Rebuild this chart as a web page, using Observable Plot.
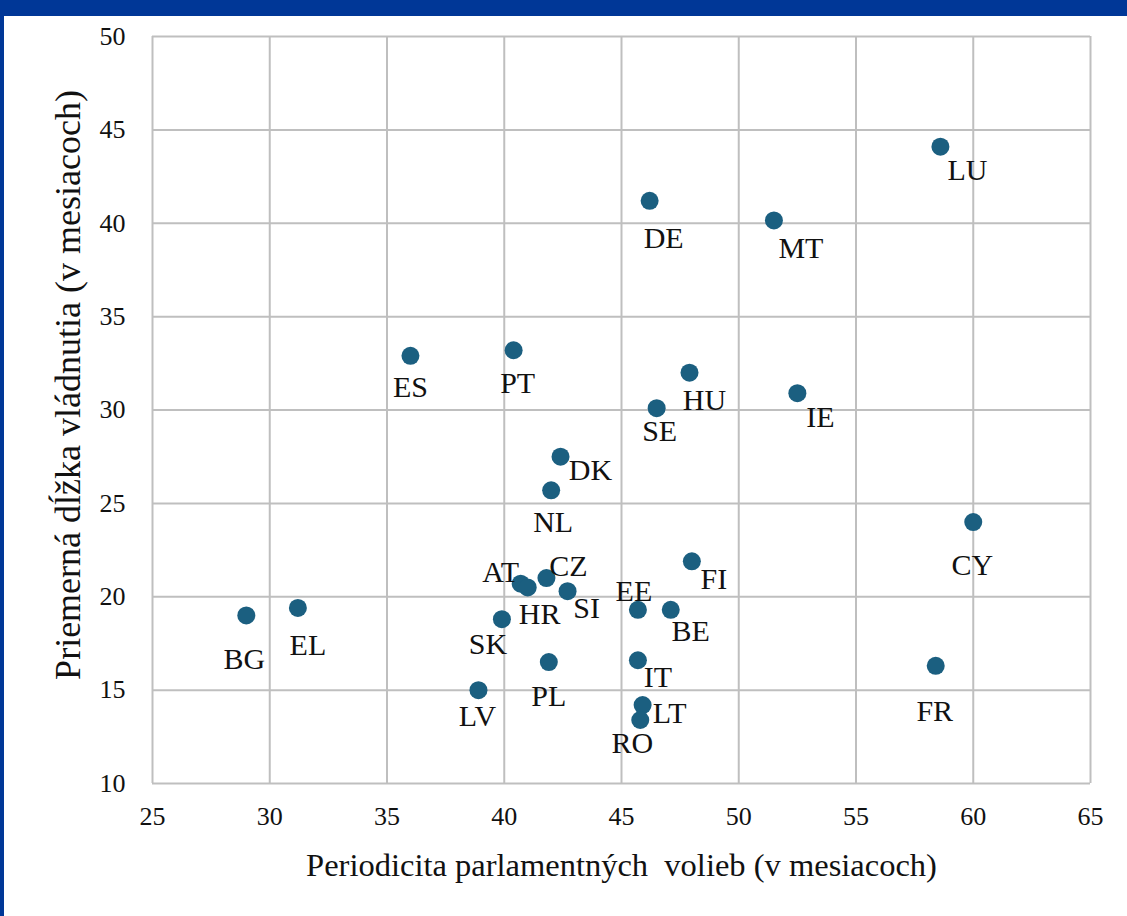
<!DOCTYPE html>
<html>
<head>
<meta charset="utf-8">
<script src="https://cdn.jsdelivr.net/npm/d3@7"></script>
<script src="https://cdn.jsdelivr.net/npm/@observablehq/plot@0.6"></script>
<style>
  html, body { margin: 0; padding: 0; background: #ffffff; }
  #frame {
    width: 1123px; height: 900px;
    border-top: 16px solid #003797;
    border-left: 4px solid #003797;
    background: #ffffff;
    overflow: hidden;
  }
  #chart svg { display: block; }
  #chart svg, #chart svg text { font-family: "Liberation Serif", "Times New Roman", serif !important; }
</style>
</head>
<body>
<div id="frame"><div id="chart"></div></div>
<script>
// ---- data ----
const countries = ["LU","DE","MT","ES","PT","HU","IE","SE","DK","NL","CY","FI","AT","HR","CZ","SI","EE","BE","SK","PL","IT","LV","LT","RO","BG","EL","FR"];
const electionPeriod = [58.6,46.2,51.5,36.0,40.4,47.9,52.5,46.5,42.4,42.0,60.0,48.0,40.7,41.0,41.8,42.7,45.7,47.1,39.9,41.9,45.7,38.9,45.9,45.8,29.0,31.2,58.4];
const governmentLength = [44.1,41.2,40.15,32.9,33.2,32.0,30.9,30.1,27.5,25.7,24.0,21.9,20.7,20.5,21.0,20.3,19.3,19.3,18.8,16.5,16.6,15.0,14.2,13.4,19.0,19.4,16.3];
const xTicks = [25,30,35,40,45,50,55,60,65];
const yTicks = [10,15,20,25,30,35,40,45,50];
const xTitle = "Periodicita parlamentných  volieb (v mesiacoch)";
const yTitle = "Priemerná dĺžka vládnutia (v mesiacoch)";

// ---- label placement (pixel offsets from each dot, layout only) ----
const labelOffsets = {
  LU:[27,24], DE:[14,38], MT:[27,28], ES:[0,32], PT:[4,33], HU:[15,28], IE:[23,24],
  SE:[3,23], DK:[30,14], NL:[2,32], CY:[-1,43], FI:[22,18], AT:[-20,-11], HR:[12,27],
  CZ:[22,-12], SI:[19,17], EE:[-4,-18], BE:[20,22], SK:[-14,25], PL:[0,34], IT:[20,17],
  LV:[-1,26], LT:[27,8], RO:[-8,23], BG:[-2,44], EL:[10,37], FR:[-1,46]
};

const FONT = "Liberation Serif";
const rows = countries.map((c, i) => ({code: c, x: electionPeriod[i], y: governmentLength[i]}));

const labelMarks = rows.map(r => Plot.text([r], {
  x: "x", y: "y", text: "code",
  dx: labelOffsets[r.code][0], dy: labelOffsets[r.code][1],
  fontSize: 30, fontFamily: FONT, fill: "#111", textAnchor: "middle", lineAnchor: "middle"
}));

const chart = Plot.plot({
  width: 1123,
  height: 900,
  marginLeft: 148,
  marginRight: 37,
  marginTop: 20,
  marginBottom: 133,
  style: { fontFamily: FONT, fontSize: "26px", color: "#111", background: "#ffffff" },
  x: { domain: [25, 65] },
  y: { domain: [10, 50] },
  marks: [
    Plot.gridX(xTicks, { stroke: "#bfbfbf", strokeOpacity: 1, strokeWidth: 2 }),
    Plot.gridY(yTicks, { stroke: "#bfbfbf", strokeOpacity: 1, strokeWidth: 2 }),
    Plot.axisX(xTicks, { tickSize: 0, tickPadding: 23, label: null, fontSize: 26, fontFamily: FONT, fill: "#111" }),
    Plot.axisY(yTicks, { tickSize: 0, tickPadding: 27, label: null, fontSize: 26, fontFamily: FONT, fill: "#111" }),
    Plot.dot(rows, { x: "x", y: "y", r: 9, fill: "#1b5f80", stroke: "none" }),
    ...labelMarks,
    Plot.text([xTitle], { text: d => d, frameAnchor: "bottom", dy: 82, fontSize: 32.5, fontFamily: FONT, fill: "#111", lineAnchor: "middle", textAnchor: "middle" }),
    Plot.text([yTitle], { text: d => d, frameAnchor: "left", dx: -84, dy: -25, rotate: -90, fontSize: 36, fontFamily: FONT, fill: "#111", lineAnchor: "middle", textAnchor: "middle" })
  ]
});
document.getElementById("chart").appendChild(chart);
</script>
</body>
</html>
